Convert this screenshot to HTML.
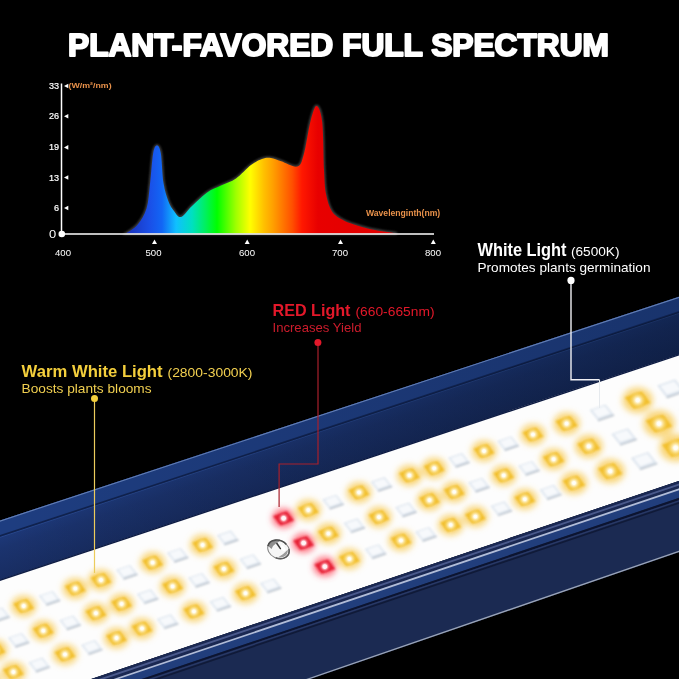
<!DOCTYPE html>
<html><head><meta charset="utf-8"><style>
html,body{margin:0;padding:0;background:#000;width:679px;height:679px;overflow:hidden}
svg{display:block;will-change:transform}
text{font-family:"Liberation Sans",sans-serif}
</style></head><body>
<svg width="679" height="679" viewBox="0 0 679 679">
<defs>
<linearGradient id="spec" gradientUnits="userSpaceOnUse" x1="126" y1="0" x2="397" y2="0">
<stop offset="0.000" stop-color="#1a30b8"/>
<stop offset="0.089" stop-color="#1a50e8"/>
<stop offset="0.133" stop-color="#1266f5"/>
<stop offset="0.185" stop-color="#10c0ff"/>
<stop offset="0.244" stop-color="#00e0c0"/>
<stop offset="0.292" stop-color="#00f060"/>
<stop offset="0.336" stop-color="#00ff00"/>
<stop offset="0.406" stop-color="#a0ff00"/>
<stop offset="0.458" stop-color="#ffff00"/>
<stop offset="0.509" stop-color="#ffc000"/>
<stop offset="0.542" stop-color="#ffa000"/>
<stop offset="0.613" stop-color="#ff5000"/>
<stop offset="0.649" stop-color="#ff1800"/>
<stop offset="0.708" stop-color="#e80000"/>
<stop offset="1.000" stop-color="#e00000"/>
</linearGradient>
<filter id="b1" x="-50%" y="-50%" width="200%" height="200%"><feGaussianBlur stdDeviation="1"/></filter>
<filter id="b07" x="-5%" y="-5%" width="110%" height="110%"><feGaussianBlur stdDeviation="0.95"/></filter>
<filter id="b12" x="-5%" y="-5%" width="110%" height="110%"><feGaussianBlur stdDeviation="1.4"/></filter>
<filter id="glow" x="-20%" y="-20%" width="140%" height="140%"><feGaussianBlur stdDeviation="3.3"/></filter>
<filter id="sh" x="-10%" y="-10%" width="120%" height="120%"><feGaussianBlur stdDeviation="1.2"/></filter>
<linearGradient id="face" gradientUnits="userSpaceOnUse" x1="340" y1="423.8" x2="352.9" y2="462.8"><stop offset="0" stop-color="#1d3878"/><stop offset="0.3" stop-color="#1b336e"/><stop offset="1" stop-color="#182d62"/></linearGradient>
<linearGradient id="hdark" gradientUnits="userSpaceOnUse" x1="0" y1="0" x2="679" y2="0"><stop offset="0" stop-color="#000" stop-opacity="0"/><stop offset="1" stop-color="#000814" stop-opacity="0.36"/></linearGradient>
<radialGradient id="hiY"><stop offset="0" stop-color="#ffffff"/><stop offset="0.2" stop-color="#fffdf0"/><stop offset="0.5" stop-color="#fce49a" stop-opacity="0.75"/><stop offset="1" stop-color="#f4c840" stop-opacity="0"/></radialGradient>
<radialGradient id="hiR"><stop offset="0" stop-color="#fffafa"/><stop offset="0.3" stop-color="#ffeef0"/><stop offset="0.6" stop-color="#f87888" stop-opacity="0.6"/><stop offset="1" stop-color="#e83048" stop-opacity="0"/></radialGradient>
<linearGradient id="btn" x1="0" y1="0" x2="1" y2="1"><stop offset="0" stop-color="#c8c8c8"/><stop offset="0.45" stop-color="#f4f4f4"/><stop offset="1" stop-color="#d0d0d0"/></linearGradient>
<clipPath id="panel"><polygon points="-5.0,581.7 684.0,352.9 684.0,479.3 -5.0,711.5"/></clipPath>
</defs>
<rect width="679" height="679" fill="#000"/>
<text x="68" y="55.6" font-size="31.3" font-weight="bold" fill="#fff" stroke="#fff" stroke-width="2" stroke-linejoin="round" textLength="541" lengthAdjust="spacingAndGlyphs">PLANT-FAVORED FULL SPECTRUM</text>

<!-- chart -->
<path d="M126.0,233.5 C128.0,232.0 134.3,228.7 137.7,224.5 C141.1,220.3 144.4,215.2 146.5,208.5 C148.6,201.8 148.9,193.2 150.0,184.0 C151.1,174.8 152.0,159.4 153.2,153.0 C154.4,146.6 155.7,145.5 157.0,145.5 C158.3,145.5 159.7,146.8 160.8,153.0 C161.9,159.2 162.2,174.9 163.5,183.0 C164.8,191.1 166.8,196.8 168.5,201.5 C170.2,206.2 171.9,208.4 174.0,211.0 C176.1,213.6 178.0,217.8 181.0,217.0 C184.0,216.2 187.7,210.1 192.0,206.0 C196.3,201.9 201.9,196.1 206.8,192.7 C211.7,189.2 216.6,187.7 221.5,185.3 C226.4,182.9 231.1,181.9 236.0,178.5 C240.9,175.1 246.7,168.2 251.0,165.0 C255.3,161.8 258.7,160.2 262.0,159.0 C265.3,157.8 267.8,157.6 271.0,158.0 C274.2,158.4 276.8,159.8 281.2,161.2 C285.6,162.6 293.6,167.6 297.3,166.5 C301.1,165.4 301.5,162.2 303.7,154.8 C305.9,147.4 308.2,130.1 310.3,122.0 C312.4,113.9 314.5,106.0 316.5,106.0 C318.5,106.0 320.9,111.4 322.2,122.0 C323.4,132.6 323.4,157.7 324.0,169.7 C324.6,181.7 324.7,187.0 326.0,194.0 C327.3,201.0 329.3,207.2 332.0,211.5 C334.7,215.8 338.3,217.3 342.0,219.5 C345.7,221.7 349.0,222.8 354.0,224.5 C359.0,226.2 364.8,228.0 372.0,229.5 C379.2,231.0 392.8,232.8 397.0,233.5 Z" fill="none" stroke="#5a5a5a" stroke-width="2.5" filter="url(#sh)" opacity="0.8"/>
<path d="M126.0,233.5 C128.0,232.0 134.3,228.7 137.7,224.5 C141.1,220.3 144.4,215.2 146.5,208.5 C148.6,201.8 148.9,193.2 150.0,184.0 C151.1,174.8 152.0,159.4 153.2,153.0 C154.4,146.6 155.7,145.5 157.0,145.5 C158.3,145.5 159.7,146.8 160.8,153.0 C161.9,159.2 162.2,174.9 163.5,183.0 C164.8,191.1 166.8,196.8 168.5,201.5 C170.2,206.2 171.9,208.4 174.0,211.0 C176.1,213.6 178.0,217.8 181.0,217.0 C184.0,216.2 187.7,210.1 192.0,206.0 C196.3,201.9 201.9,196.1 206.8,192.7 C211.7,189.2 216.6,187.7 221.5,185.3 C226.4,182.9 231.1,181.9 236.0,178.5 C240.9,175.1 246.7,168.2 251.0,165.0 C255.3,161.8 258.7,160.2 262.0,159.0 C265.3,157.8 267.8,157.6 271.0,158.0 C274.2,158.4 276.8,159.8 281.2,161.2 C285.6,162.6 293.6,167.6 297.3,166.5 C301.1,165.4 301.5,162.2 303.7,154.8 C305.9,147.4 308.2,130.1 310.3,122.0 C312.4,113.9 314.5,106.0 316.5,106.0 C318.5,106.0 320.9,111.4 322.2,122.0 C323.4,132.6 323.4,157.7 324.0,169.7 C324.6,181.7 324.7,187.0 326.0,194.0 C327.3,201.0 329.3,207.2 332.0,211.5 C334.7,215.8 338.3,217.3 342.0,219.5 C345.7,221.7 349.0,222.8 354.0,224.5 C359.0,226.2 364.8,228.0 372.0,229.5 C379.2,231.0 392.8,232.8 397.0,233.5 Z" fill="url(#spec)"/>
<line x1="61.5" y1="83.5" x2="61.5" y2="234" stroke="#fff" stroke-width="1.5"/>
<line x1="61.5" y1="234" x2="434" y2="234" stroke="#fff" stroke-width="1.5"/>
<circle cx="61.8" cy="234" r="3.3" fill="#fff"/>
<g fill="#fff" font-size="9.1" text-anchor="end" stroke="#fff" stroke-width="0.2">
<text x="59" y="89">33</text><text x="59" y="119.3">26</text><text x="59" y="150.4">19</text><text x="59" y="180.5">13</text><text x="59" y="211">6</text>
</g>
<text x="49" y="237.5" font-size="10.8" fill="#fff" textLength="7.2" lengthAdjust="spacingAndGlyphs">0</text>
<g fill="#fff">
<polygon points="64,86.0 68.3,83.7 68.3,88.3"/><polygon points="64,116.3 68.3,114.0 68.3,118.6"/><polygon points="64,147.4 68.3,145.1 68.3,149.7"/><polygon points="64,177.5 68.3,175.2 68.3,179.8"/><polygon points="64,208.0 68.3,205.7 68.3,210.3"/>
<polygon points="154.5,239.5 152,244 157,244"/><polygon points="247.2,239.5 244.7,244 249.7,244"/><polygon points="340.5,239.5 338,244 343,244"/><polygon points="433.3,239.5 430.8,244 435.8,244"/>
</g>
<g fill="#fff" font-size="9.6" text-anchor="middle">
<text x="63" y="255.5">400</text><text x="153.5" y="255.5">500</text><text x="247" y="255.5">600</text><text x="340" y="255.5">700</text><text x="433" y="255.5">800</text>
</g>
<text x="68.6" y="88.4" font-size="7.2" font-weight="bold" fill="#e8914a" textLength="43" lengthAdjust="spacingAndGlyphs">(W/m²/nm)</text>
<text x="366" y="216.2" font-size="8.6" font-weight="bold" fill="#e8914a">Wavelenginth(nm)</text>

<!-- labels -->
<text x="477.5" y="256.2" font-size="17.5" font-weight="bold" fill="#fff" textLength="89" lengthAdjust="spacingAndGlyphs">White Light</text>
<text x="571" y="256" font-size="12" fill="#fff" textLength="48.5" lengthAdjust="spacingAndGlyphs">(6500K)</text>
<text x="477.5" y="271.8" font-size="12.6" fill="#fff" textLength="173" lengthAdjust="spacingAndGlyphs">Promotes plants germination</text>
<text x="272.5" y="315.7" font-size="16.5" font-weight="bold" fill="#e3182a" textLength="78" lengthAdjust="spacingAndGlyphs">RED Light</text>
<text x="355.5" y="315.5" font-size="12.3" fill="#e3182a" textLength="79" lengthAdjust="spacingAndGlyphs">(660-665nm)</text>
<text x="272.5" y="332.2" font-size="13" fill="#cc1c2c" textLength="89" lengthAdjust="spacingAndGlyphs">Increases Yield</text>
<text x="21.6" y="376.8" font-size="17.3" font-weight="bold" fill="#f4cf3c" textLength="141" lengthAdjust="spacingAndGlyphs">Warm White Light</text>
<text x="167.5" y="376.5" font-size="12.5" fill="#f2d050" textLength="85" lengthAdjust="spacingAndGlyphs">(2800-3000K)</text>
<text x="21.6" y="393" font-size="13.4" fill="#f0cf50" textLength="130" lengthAdjust="spacingAndGlyphs">Boosts plants blooms</text>

<!-- housing top -->
<polygon points="-5.0,522.1 684.0,295.1 684.0,352.9 -5.0,581.7" fill="url(#face)"/>
<polygon points="-5.0,522.1 684.0,295.1 684.0,310.3 -5.0,537.6" fill="#1e3d80"/>
<polygon points="-5.0,522.1 684.0,295.1 684.0,310.3 -5.0,537.6" fill="url(#hdark)" opacity="0.5"/>
<path d="M-5.0,539.0 L684.0,311.7" stroke="#2a4a90" stroke-width="1" opacity="0.8"/>
<path d="M-5.0,537.6 L684.0,310.3" stroke="#10224e" stroke-width="1.6"/>
<path d="M-5.0,522.7 L684.0,295.7" stroke="#6a86bc" stroke-width="1.1" opacity="0.9"/>
<polygon points="-5.0,537.6 684.0,310.3 684.0,352.9 -5.0,581.7" fill="url(#hdark)"/>
<!-- panel -->
<polygon points="-5.0,581.7 684.0,352.9 684.0,479.3 -5.0,711.5" fill="#fdfdfd"/>
<g clip-path="url(#panel)">

<g filter="url(#glow)"><ellipse cx="23.7" cy="606.0" rx="12.5" ry="10.5" fill="#f8cf60" opacity="0.85"/><ellipse cx="75.3" cy="588.5" rx="12.5" ry="10.5" fill="#f8cf60" opacity="0.85"/><ellipse cx="101.0" cy="580.0" rx="12.5" ry="10.5" fill="#f8cf60" opacity="0.85"/><ellipse cx="152.6" cy="562.6" rx="12.5" ry="10.5" fill="#f8cf60" opacity="0.85"/><ellipse cx="202.6" cy="545.0" rx="12.5" ry="10.5" fill="#f8cf60" opacity="0.85"/><ellipse cx="283.6" cy="518.3" rx="11.5" ry="10.0" fill="#ff4a5c" opacity="0.75"/><ellipse cx="308.3" cy="510.0" rx="12.5" ry="10.5" fill="#f8cf60" opacity="0.85"/><ellipse cx="359.0" cy="492.4" rx="12.5" ry="10.5" fill="#f8cf60" opacity="0.85"/><ellipse cx="409.4" cy="475.4" rx="12.5" ry="10.5" fill="#f8cf60" opacity="0.85"/><ellipse cx="434.2" cy="468.3" rx="12.5" ry="10.5" fill="#f8cf60" opacity="0.85"/><ellipse cx="484.0" cy="451.0" rx="12.5" ry="10.5" fill="#f8cf60" opacity="0.85"/><ellipse cx="533.0" cy="434.5" rx="12.5" ry="10.5" fill="#f8cf60" opacity="0.85"/><ellipse cx="566.6" cy="423.6" rx="13.2" ry="11.1" fill="#f8cf60" opacity="0.85"/><ellipse cx="637.7" cy="400.2" rx="15.2" ry="12.8" fill="#f8cf60" opacity="0.85"/><ellipse cx="-5.0" cy="650.0" rx="12.5" ry="10.5" fill="#f8cf60" opacity="0.85"/><ellipse cx="43.3" cy="630.7" rx="12.5" ry="10.5" fill="#f8cf60" opacity="0.85"/><ellipse cx="95.9" cy="613.2" rx="12.5" ry="10.5" fill="#f8cf60" opacity="0.85"/><ellipse cx="121.6" cy="603.9" rx="12.5" ry="10.5" fill="#f8cf60" opacity="0.85"/><ellipse cx="172.6" cy="586.4" rx="12.5" ry="10.5" fill="#f8cf60" opacity="0.85"/><ellipse cx="223.9" cy="568.9" rx="12.5" ry="10.5" fill="#f8cf60" opacity="0.85"/><ellipse cx="303.6" cy="543.0" rx="11.5" ry="10.0" fill="#ff4a5c" opacity="0.75"/><ellipse cx="328.4" cy="533.6" rx="12.5" ry="10.5" fill="#f8cf60" opacity="0.85"/><ellipse cx="379.0" cy="517.1" rx="12.5" ry="10.5" fill="#f8cf60" opacity="0.85"/><ellipse cx="429.5" cy="500.1" rx="12.5" ry="10.5" fill="#f8cf60" opacity="0.85"/><ellipse cx="454.2" cy="491.9" rx="12.5" ry="10.5" fill="#f8cf60" opacity="0.85"/><ellipse cx="503.7" cy="475.4" rx="12.5" ry="10.5" fill="#f8cf60" opacity="0.85"/><ellipse cx="553.6" cy="459.2" rx="12.9" ry="10.8" fill="#f8cf60" opacity="0.85"/><ellipse cx="588.8" cy="446.3" rx="13.9" ry="11.6" fill="#f8cf60" opacity="0.85"/><ellipse cx="659.0" cy="423.6" rx="15.8" ry="13.3" fill="#f8cf60" opacity="0.85"/><ellipse cx="-12.0" cy="681.0" rx="12.5" ry="10.5" fill="#f8cf60" opacity="0.85"/><ellipse cx="13.4" cy="672.0" rx="12.5" ry="10.5" fill="#f8cf60" opacity="0.85"/><ellipse cx="65.0" cy="654.4" rx="12.5" ry="10.5" fill="#f8cf60" opacity="0.85"/><ellipse cx="116.5" cy="638.0" rx="12.5" ry="10.5" fill="#f8cf60" opacity="0.85"/><ellipse cx="142.0" cy="628.5" rx="12.5" ry="10.5" fill="#f8cf60" opacity="0.85"/><ellipse cx="193.9" cy="611.4" rx="12.5" ry="10.5" fill="#f8cf60" opacity="0.85"/><ellipse cx="245.5" cy="593.2" rx="12.5" ry="10.5" fill="#f8cf60" opacity="0.85"/><ellipse cx="324.8" cy="566.6" rx="11.5" ry="10.0" fill="#ff4a5c" opacity="0.75"/><ellipse cx="349.4" cy="558.9" rx="12.5" ry="10.5" fill="#f8cf60" opacity="0.85"/><ellipse cx="401.0" cy="540.5" rx="12.5" ry="10.5" fill="#f8cf60" opacity="0.85"/><ellipse cx="450.7" cy="524.9" rx="12.5" ry="10.5" fill="#f8cf60" opacity="0.85"/><ellipse cx="475.4" cy="516.6" rx="12.5" ry="10.5" fill="#f8cf60" opacity="0.85"/><ellipse cx="524.8" cy="499.2" rx="12.5" ry="10.5" fill="#f8cf60" opacity="0.85"/><ellipse cx="573.9" cy="483.0" rx="13.4" ry="11.3" fill="#f8cf60" opacity="0.85"/><ellipse cx="610.2" cy="471.2" rx="14.5" ry="12.1" fill="#f8cf60" opacity="0.85"/><ellipse cx="675.7" cy="447.8" rx="16.3" ry="13.7" fill="#f8cf60" opacity="0.85"/></g>
<g filter="url(#b07)"><polygon points="-11.7,612.2 2.3,607.4 9.7,616.8 -4.3,621.6" fill="#dde5ee"/><polygon points="-9.3,612.6 1.6,608.8 6.8,615.4 -4.2,619.2" fill="#f7f9fc"/><line x1="-4.3" y1="621.6" x2="9.7" y2="616.8" stroke="#a0aab6" stroke-width="1.3" opacity="0.8"/><polygon points="13.1,603.6 26.9,598.9 34.3,608.4 20.5,613.1" fill="#f2c02e"/><polygon points="38.8,595.7 52.8,590.9 60.2,600.3 46.2,605.1" fill="#dde5ee"/><polygon points="41.2,596.1 52.1,592.3 57.2,598.9 46.3,602.7" fill="#f7f9fc"/><line x1="46.2" y1="605.1" x2="60.2" y2="600.3" stroke="#a0aab6" stroke-width="1.3" opacity="0.8"/><polygon points="64.7,586.1 78.5,581.4 85.9,590.9 72.1,595.6" fill="#f2c02e"/><polygon points="90.4,577.6 104.2,572.9 111.6,582.4 97.8,587.1" fill="#f2c02e"/><polygon points="116.1,569.7 130.1,564.9 137.5,574.3 123.5,579.1" fill="#dde5ee"/><polygon points="118.5,570.1 129.4,566.3 134.6,572.9 123.6,576.7" fill="#f7f9fc"/><line x1="123.5" y1="579.1" x2="137.5" y2="574.3" stroke="#a0aab6" stroke-width="1.3" opacity="0.8"/><polygon points="142.0,560.2 155.8,555.5 163.2,565.0 149.4,569.7" fill="#f2c02e"/><polygon points="166.9,552.7 180.9,547.9 188.3,557.3 174.3,562.1" fill="#dde5ee"/><polygon points="169.2,553.1 180.2,549.3 185.3,555.9 174.4,559.7" fill="#f7f9fc"/><line x1="174.3" y1="562.1" x2="188.3" y2="557.3" stroke="#a0aab6" stroke-width="1.3" opacity="0.8"/><polygon points="192.0,542.6 205.8,537.9 213.2,547.4 199.4,552.1" fill="#f2c02e"/><polygon points="217.0,535.3 231.0,530.5 238.4,539.9 224.4,544.7" fill="#dde5ee"/><polygon points="219.3,535.7 230.3,531.9 235.4,538.5 224.5,542.3" fill="#f7f9fc"/><line x1="224.4" y1="544.7" x2="238.4" y2="539.9" stroke="#a0aab6" stroke-width="1.3" opacity="0.8"/><polygon points="273.0,515.9 286.8,511.2 294.2,520.6 280.4,525.4" fill="#e62036"/><polygon points="297.7,507.7 311.5,502.9 318.9,512.4 305.1,517.1" fill="#f2c02e"/><polygon points="322.3,499.5 336.3,494.7 343.7,504.1 329.7,508.9" fill="#dde5ee"/><polygon points="324.7,499.9 335.6,496.1 340.7,502.7 329.8,506.5" fill="#f7f9fc"/><line x1="329.7" y1="508.9" x2="343.7" y2="504.1" stroke="#a0aab6" stroke-width="1.3" opacity="0.8"/><polygon points="348.4,490.1 362.2,485.3 369.6,494.7 355.8,499.4" fill="#f2c02e"/><polygon points="370.7,481.8 384.7,477.0 392.1,486.4 378.1,491.2" fill="#dde5ee"/><polygon points="373.1,482.2 384.0,478.4 389.1,485.0 378.2,488.8" fill="#f7f9fc"/><line x1="378.1" y1="491.2" x2="392.1" y2="486.4" stroke="#a0aab6" stroke-width="1.3" opacity="0.8"/><polygon points="398.8,473.1 412.6,468.3 420.0,477.7 406.2,482.4" fill="#f2c02e"/><polygon points="423.6,466.0 437.4,461.2 444.8,470.6 431.0,475.4" fill="#f2c02e"/><polygon points="448.2,457.8 462.2,453.0 469.6,462.4 455.6,467.2" fill="#dde5ee"/><polygon points="450.6,458.2 461.5,454.4 466.6,461.0 455.7,464.8" fill="#f7f9fc"/><line x1="455.6" y1="467.2" x2="469.6" y2="462.4" stroke="#a0aab6" stroke-width="1.3" opacity="0.8"/><polygon points="473.4,448.7 487.2,443.9 494.6,453.3 480.8,458.1" fill="#f2c02e"/><polygon points="497.3,441.0 511.3,436.2 518.7,445.6 504.7,450.4" fill="#dde5ee"/><polygon points="499.7,441.4 510.6,437.6 515.8,444.2 504.8,448.0" fill="#f7f9fc"/><line x1="504.7" y1="450.4" x2="518.7" y2="445.6" stroke="#a0aab6" stroke-width="1.3" opacity="0.8"/><polygon points="522.4,432.2 536.2,427.4 543.6,436.8 529.8,441.6" fill="#f2c02e"/><polygon points="555.4,421.1 570.0,416.1 577.8,426.1 563.2,431.1" fill="#f2c02e"/><polygon points="589.6,409.9 605.6,404.4 614.0,415.1 598.0,420.6" fill="#dde5ee"/><polygon points="592.3,410.3 604.7,406.1 610.6,413.5 598.2,417.8" fill="#f7f9fc"/><line x1="598.0" y1="420.6" x2="614.0" y2="415.1" stroke="#a0aab6" stroke-width="1.3" opacity="0.8"/><polygon points="624.8,397.3 641.6,391.6 650.6,403.1 633.8,408.8" fill="#f2c02e"/><polygon points="657.2,385.5 675.3,379.3 684.8,391.5 666.7,397.7" fill="#dde5ee"/><polygon points="660.2,386.0 674.3,381.2 681.0,389.7 666.9,394.5" fill="#f7f9fc"/><line x1="666.7" y1="397.7" x2="684.8" y2="391.5" stroke="#a0aab6" stroke-width="1.3" opacity="0.8"/><polygon points="-15.6,647.6 -1.8,642.9 5.6,652.4 -8.2,657.1" fill="#f2c02e"/><polygon points="7.9,637.7 21.9,632.9 29.3,642.3 15.3,647.1" fill="#dde5ee"/><polygon points="10.2,638.1 21.2,634.3 26.4,640.9 15.4,644.7" fill="#f7f9fc"/><line x1="15.3" y1="647.1" x2="29.3" y2="642.3" stroke="#a0aab6" stroke-width="1.3" opacity="0.8"/><polygon points="32.7,628.4 46.5,623.6 53.9,633.1 40.1,637.8" fill="#f2c02e"/><polygon points="59.4,620.2 73.4,615.4 80.8,624.8 66.8,629.6" fill="#dde5ee"/><polygon points="61.8,620.6 72.7,616.8 77.8,623.4 66.9,627.2" fill="#f7f9fc"/><line x1="66.8" y1="629.6" x2="80.8" y2="624.8" stroke="#a0aab6" stroke-width="1.3" opacity="0.8"/><polygon points="85.3,610.9 99.1,606.1 106.5,615.6 92.7,620.3" fill="#f2c02e"/><polygon points="111.0,601.5 124.8,596.8 132.2,606.2 118.4,611.0" fill="#f2c02e"/><polygon points="136.9,594.1 150.9,589.3 158.3,598.7 144.3,603.5" fill="#dde5ee"/><polygon points="139.2,594.5 150.2,590.7 155.3,597.3 144.4,601.1" fill="#f7f9fc"/><line x1="144.3" y1="603.5" x2="158.3" y2="598.7" stroke="#a0aab6" stroke-width="1.3" opacity="0.8"/><polygon points="162.0,584.0 175.8,579.3 183.2,588.8 169.4,593.5" fill="#f2c02e"/><polygon points="188.2,577.7 202.2,572.9 209.6,582.3 195.6,587.1" fill="#dde5ee"/><polygon points="190.5,578.1 201.5,574.3 206.7,580.9 195.7,584.7" fill="#f7f9fc"/><line x1="195.6" y1="587.1" x2="209.6" y2="582.3" stroke="#a0aab6" stroke-width="1.3" opacity="0.8"/><polygon points="213.3,566.5 227.1,561.8 234.5,571.2 220.7,576.0" fill="#f2c02e"/><polygon points="239.5,559.0 253.5,554.2 260.9,563.6 246.9,568.4" fill="#dde5ee"/><polygon points="241.8,559.4 252.8,555.6 257.9,562.2 247.0,566.0" fill="#f7f9fc"/><line x1="246.9" y1="568.4" x2="260.9" y2="563.6" stroke="#a0aab6" stroke-width="1.3" opacity="0.8"/><polygon points="293.0,540.6 306.8,535.9 314.2,545.4 300.4,550.1" fill="#e62036"/><polygon points="317.8,531.2 331.6,526.5 339.0,536.0 325.2,540.7" fill="#f2c02e"/><polygon points="343.6,523.1 357.6,518.3 365.0,527.7 351.0,532.5" fill="#dde5ee"/><polygon points="346.0,523.5 356.9,519.7 362.0,526.3 351.1,530.1" fill="#f7f9fc"/><line x1="351.0" y1="532.5" x2="365.0" y2="527.7" stroke="#a0aab6" stroke-width="1.3" opacity="0.8"/><polygon points="368.4,514.8 382.2,510.1 389.6,519.5 375.8,524.2" fill="#f2c02e"/><polygon points="395.2,507.3 409.2,502.5 416.6,511.9 402.6,516.7" fill="#dde5ee"/><polygon points="397.6,507.7 408.5,503.9 413.6,510.5 402.7,514.3" fill="#f7f9fc"/><line x1="402.6" y1="516.7" x2="416.6" y2="511.9" stroke="#a0aab6" stroke-width="1.3" opacity="0.8"/><polygon points="418.9,497.8 432.7,493.1 440.1,502.4 426.3,507.2" fill="#f2c02e"/><polygon points="443.6,489.6 457.4,484.8 464.8,494.2 451.0,498.9" fill="#f2c02e"/><polygon points="468.2,482.5 482.2,477.7 489.6,487.1 475.6,491.9" fill="#dde5ee"/><polygon points="470.6,482.9 481.5,479.1 486.6,485.7 475.7,489.5" fill="#f7f9fc"/><line x1="475.6" y1="491.9" x2="489.6" y2="487.1" stroke="#a0aab6" stroke-width="1.3" opacity="0.8"/><polygon points="493.1,473.1 506.9,468.3 514.3,477.7 500.5,482.4" fill="#f2c02e"/><polygon points="518.2,465.7 532.2,460.9 539.6,470.3 525.6,475.1" fill="#dde5ee"/><polygon points="520.5,466.1 531.5,462.3 536.7,468.9 525.7,472.7" fill="#f7f9fc"/><line x1="525.6" y1="475.1" x2="539.6" y2="470.3" stroke="#a0aab6" stroke-width="1.3" opacity="0.8"/><polygon points="542.7,456.8 556.9,451.9 564.5,461.6 550.3,466.5" fill="#f2c02e"/><polygon points="577.1,443.7 592.3,438.5 600.5,448.9 585.3,454.1" fill="#f2c02e"/><polygon points="611.3,433.9 627.9,428.2 636.7,439.3 620.1,445.0" fill="#dde5ee"/><polygon points="614.1,434.3 627.0,429.9 633.2,437.7 620.2,442.1" fill="#f7f9fc"/><line x1="620.1" y1="445.0" x2="636.7" y2="439.3" stroke="#a0aab6" stroke-width="1.3" opacity="0.8"/><polygon points="645.6,420.6 663.0,414.7 672.4,426.6 655.0,432.5" fill="#f2c02e"/><polygon points="679.6,408.9 698.4,402.5 708.4,415.1 689.6,421.5" fill="#dde5ee"/><polygon points="682.8,409.4 697.4,404.4 704.4,413.2 689.7,418.3" fill="#f7f9fc"/><line x1="689.6" y1="421.5" x2="708.4" y2="415.1" stroke="#a0aab6" stroke-width="1.3" opacity="0.8"/><polygon points="-22.6,678.6 -8.8,673.9 -1.4,683.4 -15.2,688.1" fill="#f2c02e"/><polygon points="2.8,669.6 16.6,664.9 24.0,674.4 10.2,679.1" fill="#f2c02e"/><polygon points="28.5,662.4 42.5,657.6 49.9,667.0 35.9,671.8" fill="#dde5ee"/><polygon points="30.9,662.8 41.8,659.0 47.0,665.6 36.0,669.4" fill="#f7f9fc"/><line x1="35.9" y1="671.8" x2="49.9" y2="667.0" stroke="#a0aab6" stroke-width="1.3" opacity="0.8"/><polygon points="54.4,652.0 68.2,647.3 75.6,656.8 61.8,661.5" fill="#f2c02e"/><polygon points="81.1,644.9 95.1,640.1 102.5,649.5 88.5,654.3" fill="#dde5ee"/><polygon points="83.5,645.3 94.4,641.5 99.5,648.1 88.6,651.9" fill="#f7f9fc"/><line x1="88.5" y1="654.3" x2="102.5" y2="649.5" stroke="#a0aab6" stroke-width="1.3" opacity="0.8"/><polygon points="105.9,635.6 119.7,630.9 127.1,640.4 113.3,645.1" fill="#f2c02e"/><polygon points="131.4,626.1 145.2,621.4 152.6,630.9 138.8,635.6" fill="#f2c02e"/><polygon points="156.9,619.1 170.9,614.3 178.3,623.7 164.3,628.5" fill="#dde5ee"/><polygon points="159.2,619.5 170.2,615.7 175.3,622.3 164.4,626.1" fill="#f7f9fc"/><line x1="164.3" y1="628.5" x2="178.3" y2="623.7" stroke="#a0aab6" stroke-width="1.3" opacity="0.8"/><polygon points="183.3,609.0 197.1,604.3 204.5,613.8 190.7,618.5" fill="#f2c02e"/><polygon points="209.5,601.6 223.5,596.8 230.9,606.2 216.9,611.0" fill="#dde5ee"/><polygon points="211.8,602.0 222.8,598.2 227.9,604.8 217.0,608.6" fill="#f7f9fc"/><line x1="216.9" y1="611.0" x2="230.9" y2="606.2" stroke="#a0aab6" stroke-width="1.3" opacity="0.8"/><polygon points="234.9,590.9 248.7,586.1 256.1,595.6 242.3,600.3" fill="#f2c02e"/><polygon points="259.9,583.2 273.9,578.4 281.3,587.8 267.3,592.6" fill="#dde5ee"/><polygon points="262.3,583.6 273.2,579.8 278.3,586.4 267.4,590.2" fill="#f7f9fc"/><line x1="267.3" y1="592.6" x2="281.3" y2="587.8" stroke="#a0aab6" stroke-width="1.3" opacity="0.8"/><polygon points="314.2,564.2 328.0,559.5 335.4,569.0 321.6,573.7" fill="#e62036"/><polygon points="338.8,556.5 352.6,551.8 360.0,561.2 346.2,566.0" fill="#f2c02e"/><polygon points="364.8,549.0 378.8,544.2 386.2,553.6 372.2,558.4" fill="#dde5ee"/><polygon points="367.2,549.4 378.1,545.6 383.2,552.2 372.3,556.0" fill="#f7f9fc"/><line x1="372.2" y1="558.4" x2="386.2" y2="553.6" stroke="#a0aab6" stroke-width="1.3" opacity="0.8"/><polygon points="390.4,538.1 404.2,533.4 411.6,542.9 397.8,547.6" fill="#f2c02e"/><polygon points="415.2,531.7 429.2,526.9 436.6,536.3 422.6,541.1" fill="#dde5ee"/><polygon points="417.6,532.1 428.5,528.3 433.6,534.9 422.7,538.7" fill="#f7f9fc"/><line x1="422.6" y1="541.1" x2="436.6" y2="536.3" stroke="#a0aab6" stroke-width="1.3" opacity="0.8"/><polygon points="440.1,522.5 453.9,517.8 461.3,527.2 447.5,532.0" fill="#f2c02e"/><polygon points="464.8,514.2 478.6,509.6 486.0,519.0 472.2,523.7" fill="#f2c02e"/><polygon points="490.6,506.1 504.6,501.3 512.0,510.7 498.0,515.5" fill="#dde5ee"/><polygon points="493.0,506.5 503.9,502.7 509.0,509.3 498.1,513.1" fill="#f7f9fc"/><line x1="498.0" y1="515.5" x2="512.0" y2="510.7" stroke="#a0aab6" stroke-width="1.3" opacity="0.8"/><polygon points="514.2,496.9 528.0,492.1 535.4,501.5 521.6,506.2" fill="#f2c02e"/><polygon points="539.6,489.7 554.0,484.8 561.6,494.5 547.2,499.4" fill="#dde5ee"/><polygon points="542.1,490.1 553.2,486.3 558.5,493.0 547.4,496.9" fill="#f7f9fc"/><line x1="547.2" y1="499.4" x2="561.6" y2="494.5" stroke="#a0aab6" stroke-width="1.3" opacity="0.8"/><polygon points="562.5,480.5 577.3,475.4 585.3,485.5 570.5,490.6" fill="#f2c02e"/><polygon points="597.9,468.5 613.9,463.1 622.5,473.9 606.5,479.3" fill="#f2c02e"/><polygon points="630.9,457.9 648.2,452.0 657.3,463.5 640.0,469.4" fill="#dde5ee"/><polygon points="633.8,458.3 647.3,453.7 653.6,461.8 640.2,466.4" fill="#f7f9fc"/><line x1="640.0" y1="469.4" x2="657.3" y2="463.5" stroke="#a0aab6" stroke-width="1.3" opacity="0.8"/><polygon points="661.9,444.7 679.9,438.6 689.5,450.9 671.5,457.0" fill="#f2c02e"/></g>
<circle cx="23.7" cy="606.0" r="7.5" fill="url(#hiY)"/><circle cx="75.3" cy="588.5" r="7.5" fill="url(#hiY)"/><circle cx="101.0" cy="580.0" r="7.5" fill="url(#hiY)"/><circle cx="152.6" cy="562.6" r="7.5" fill="url(#hiY)"/><circle cx="202.6" cy="545.0" r="7.5" fill="url(#hiY)"/><circle cx="283.6" cy="518.3" r="6.5" fill="url(#hiR)"/><circle cx="308.3" cy="510.0" r="7.5" fill="url(#hiY)"/><circle cx="359.0" cy="492.4" r="7.5" fill="url(#hiY)"/><circle cx="409.4" cy="475.4" r="7.5" fill="url(#hiY)"/><circle cx="434.2" cy="468.3" r="7.5" fill="url(#hiY)"/><circle cx="484.0" cy="451.0" r="7.5" fill="url(#hiY)"/><circle cx="533.0" cy="434.5" r="7.5" fill="url(#hiY)"/><circle cx="566.6" cy="423.6" r="7.9" fill="url(#hiY)"/><circle cx="637.7" cy="400.2" r="9.1" fill="url(#hiY)"/><circle cx="-5.0" cy="650.0" r="7.5" fill="url(#hiY)"/><circle cx="43.3" cy="630.7" r="7.5" fill="url(#hiY)"/><circle cx="95.9" cy="613.2" r="7.5" fill="url(#hiY)"/><circle cx="121.6" cy="603.9" r="7.5" fill="url(#hiY)"/><circle cx="172.6" cy="586.4" r="7.5" fill="url(#hiY)"/><circle cx="223.9" cy="568.9" r="7.5" fill="url(#hiY)"/><circle cx="303.6" cy="543.0" r="6.5" fill="url(#hiR)"/><circle cx="328.4" cy="533.6" r="7.5" fill="url(#hiY)"/><circle cx="379.0" cy="517.1" r="7.5" fill="url(#hiY)"/><circle cx="429.5" cy="500.1" r="7.5" fill="url(#hiY)"/><circle cx="454.2" cy="491.9" r="7.5" fill="url(#hiY)"/><circle cx="503.7" cy="475.4" r="7.5" fill="url(#hiY)"/><circle cx="553.6" cy="459.2" r="7.7" fill="url(#hiY)"/><circle cx="588.8" cy="446.3" r="8.3" fill="url(#hiY)"/><circle cx="659.0" cy="423.6" r="9.5" fill="url(#hiY)"/><circle cx="-12.0" cy="681.0" r="7.5" fill="url(#hiY)"/><circle cx="13.4" cy="672.0" r="7.5" fill="url(#hiY)"/><circle cx="65.0" cy="654.4" r="7.5" fill="url(#hiY)"/><circle cx="116.5" cy="638.0" r="7.5" fill="url(#hiY)"/><circle cx="142.0" cy="628.5" r="7.5" fill="url(#hiY)"/><circle cx="193.9" cy="611.4" r="7.5" fill="url(#hiY)"/><circle cx="245.5" cy="593.2" r="7.5" fill="url(#hiY)"/><circle cx="324.8" cy="566.6" r="6.5" fill="url(#hiR)"/><circle cx="349.4" cy="558.9" r="7.5" fill="url(#hiY)"/><circle cx="401.0" cy="540.5" r="7.5" fill="url(#hiY)"/><circle cx="450.7" cy="524.9" r="7.5" fill="url(#hiY)"/><circle cx="475.4" cy="516.6" r="7.5" fill="url(#hiY)"/><circle cx="524.8" cy="499.2" r="7.5" fill="url(#hiY)"/><circle cx="573.9" cy="483.0" r="8.1" fill="url(#hiY)"/><circle cx="610.2" cy="471.2" r="8.7" fill="url(#hiY)"/><circle cx="675.7" cy="447.8" r="9.8" fill="url(#hiY)"/>
<g transform="translate(278.5,549.4) rotate(25)">
<ellipse rx="11.2" ry="9" fill="#f6f6f6" stroke="#8a8a8a" stroke-width="1"/>
<path d="M-10.5,1.5 A10.5,8.3 0 0 1 -2,-8.3 L-4.5,-5 Q-7,-1 -6.5,2.5 Z" fill="#8e8e8e"/>
<path d="M-11,1.5 A11,8.8 0 0 1 5,-7.8" stroke="#4e4e4e" stroke-width="1.6" fill="none"/>
<path d="M9.2,-4.8 A11,8.8 0 0 1 1,8.8" stroke="#5e5e5e" stroke-width="1.6" fill="none"/>
<path d="M8.5,-3.5 A9.5,7.5 0 0 1 3,7.2 Q7,2 8.5,-3.5 Z" fill="#9c9c9c"/>
<path d="M-4.5,-5 L2,-1.2" stroke="#3a3a3a" stroke-width="1.6"/>
<ellipse cx="3.7" cy="-3" rx="3.2" ry="1.8" fill="#fff" transform="rotate(30 3.7 -3)"/>
</g>


</g>
<path d="M-5.0,582.0 L684.0,353.2" stroke="#0e1c44" stroke-width="1.4"/>
<!-- housing bottom -->
<polygon points="-5.0,711.5 684.0,479.3 684.0,550.5 -5.0,787.5" fill="#1b2a52"/>
<polygon points="-5.0,711.5 684.0,479.3 684.0,486.3 -5.0,718.5" fill="#1a2852"/>
<path d="M-5.0,715.0 L684.0,482.8" stroke="#56669a" stroke-width="1.8" opacity="0.8"/>
<polygon points="-5.0,720.5 684.0,488.3 684.0,496.3 -5.0,728.5" fill="#213e7c"/>
<path d="M-5.0,719.8 L684.0,487.6" stroke="#b0bcd8" stroke-width="1.8"/>
<path d="M-5.0,729.5 L684.0,497.3" stroke="#0c1430" stroke-width="2"/>
<path d="M-5.0,731.5 L684.0,499.3" stroke="#2a3a68" stroke-width="1.2"/>
<path d="M-5.0,733.5 L684.0,501.3" stroke="#101a38" stroke-width="1.6"/>
<path d="M-5.0,786.7 L684.0,549.7" stroke="#9aa4b8" stroke-width="1.3"/>

<!-- annotation lines -->
<g fill="none" stroke-width="1.2">
<path d="M94.5,398 V573" stroke="#eccc5c"/>
<path d="M318,342 V464 H279.1 V507" stroke="#a8202c"/>
<path d="M571,280 V379.8 H599.5" stroke="#f0f0f4" stroke-width="1.4"/>
<path d="M599.5,379.8 V408" stroke="#e6eaee" stroke-width="1"/>
</g>
<circle cx="94.5" cy="398.4" r="3.5" fill="#f4cf3c"/>
<circle cx="317.9" cy="342.5" r="3.5" fill="#e3182a"/>
<circle cx="571" cy="280.4" r="3.6" fill="#fff"/>
</svg>
</body></html>
